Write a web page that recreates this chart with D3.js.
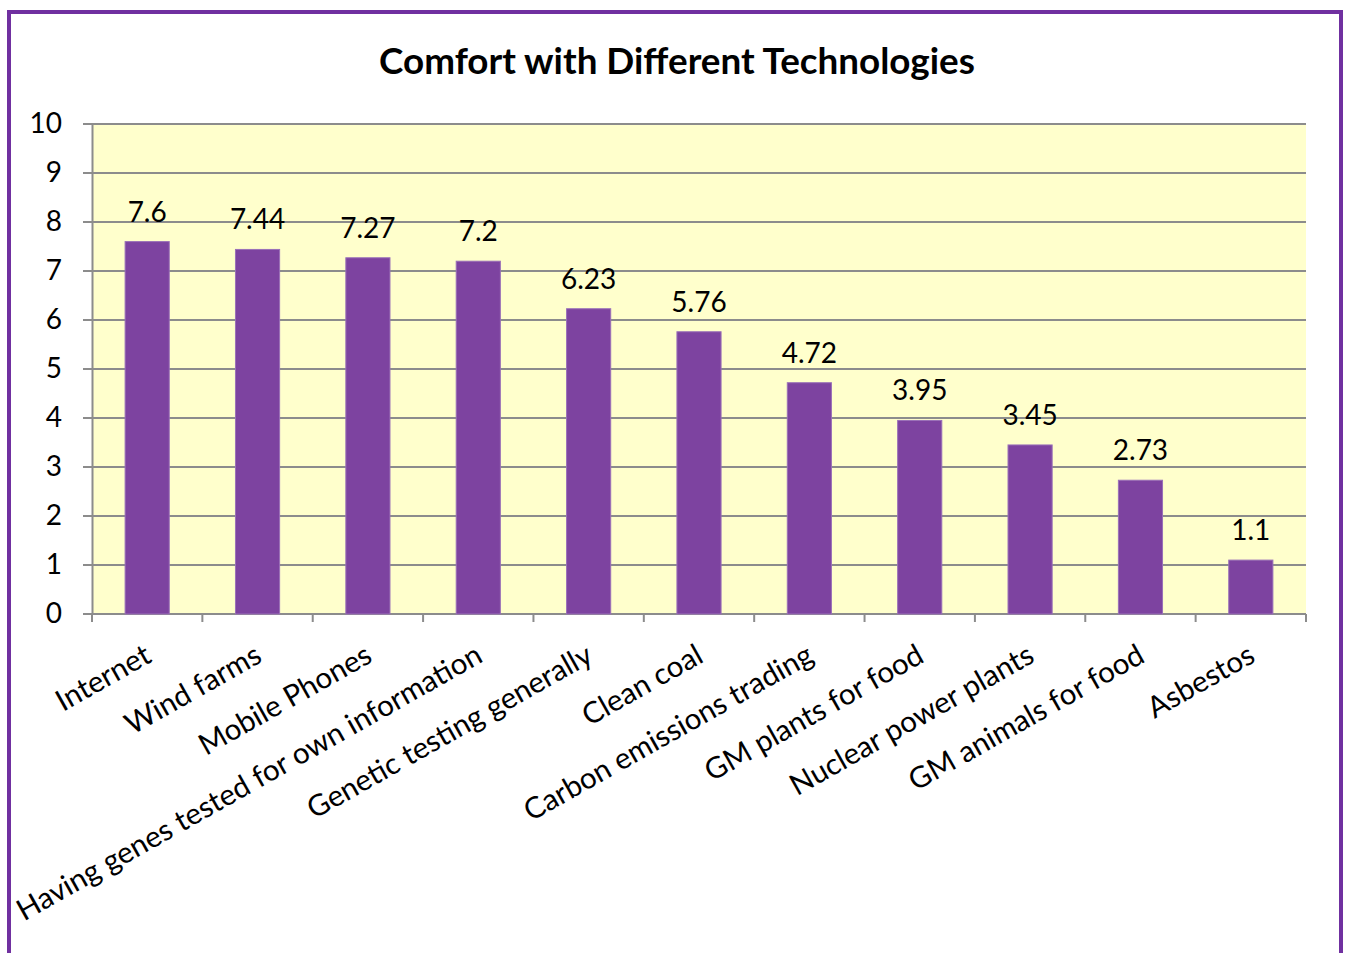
<!DOCTYPE html>
<html>
<head>
<meta charset="utf-8">
<script src="https://cdn.jsdelivr.net/npm/d3@7"></script>
<style>
  body { margin: 0; background: #fff; }
  text { font-family: Lato, "Open Sans", sans-serif; }
</style>
</head>
<body>
<div id="chart"></div>
<script>
var categories = ["Internet", "Wind farms", "Mobile Phones", "Having genes tested for own information",
    "Genetic testing generally", "Clean coal", "Carbon emissions trading", "GM plants for food",
    "Nuclear power plants", "GM animals  for food", "Asbestos"];
var values = [7.6, 7.44, 7.27, 7.2, 6.23, 5.76, 4.72, 3.95, 3.45, 2.73, 1.1];
var yTicks = [0, 1, 2, 3, 4, 5, 6, 7, 8, 9, 10];

var width = 1346, height = 953;
var margin = {left: 92, right: 40, top: 124, bottom: 339};

var svg = d3.select("#chart").append("svg")
    .attr("width", width)
    .attr("height", height);

// purple frame
svg.append("rect")
    .attr("x", 9).attr("y", 12)
    .attr("width", 1332).attr("height", 960)
    .attr("fill", "none")
    .attr("stroke", "#7030a0")
    .attr("stroke-width", 4);

svg.append("text")
    .attr("x", 677).attr("y", 74)
    .attr("text-anchor", "middle")
    .attr("font-size", "36.8px")
    .attr("font-weight", "bold")
    .text("Comfort with Different Technologies");

var x = d3.scaleBand()
    .domain(categories)
    .range([margin.left, width - margin.right])
    .paddingInner(0.6)
    .paddingOuter(0.3);

var y = d3.scaleLinear()
    .domain([0, 10])
    .range([height - margin.bottom, margin.top]);

svg.append("rect")
    .attr("x", margin.left).attr("y", margin.top)
    .attr("width", width - margin.right - margin.left)
    .attr("height", y(0) - margin.top)
    .attr("fill", "#ffffcc");

// gridlines
svg.append("g")
    .selectAll("line")
    .data(yTicks)
    .enter().append("line")
    .attr("x1", margin.left - 9)
    .attr("x2", width - margin.right)
    .attr("y1", function(d) { return y(d); })
    .attr("y2", function(d) { return y(d); })
    .attr("stroke", "#8c8c8c")
    .attr("stroke-width", 2);

// y axis
var yAxis = svg.append("g")
    .attr("transform", "translate(" + margin.left + ",0)")
    .call(d3.axisLeft(y).tickValues(yTicks).tickSize(0).tickPadding(30));
yAxis.select(".domain").attr("stroke", "#8c8c8c").attr("stroke-width", 2);
yAxis.selectAll("text").attr("font-size", "28px").attr("fill", "#000")
    .attr("font-family", "Lato, sans-serif");

// x axis category ticks
var bounds = d3.range(categories.length + 1).map(function(i) {
    return margin.left + i * (width - margin.right - margin.left) / categories.length;
});
svg.append("g")
    .selectAll("line")
    .data(bounds)
    .enter().append("line")
    .attr("x1", function(d) { return d; })
    .attr("x2", function(d) { return d; })
    .attr("y1", y(0))
    .attr("y2", y(0) + 8)
    .attr("stroke", "#8c8c8c")
    .attr("stroke-width", 2);

svg.append("g")
    .selectAll("rect")
    .data(values)
    .enter().append("rect")
    .attr("x", function(d, i) { return x(categories[i]); })
    .attr("y", function(d) { return y(d); })
    .attr("width", x.bandwidth())
    .attr("height", function(d) { return y(0) - y(d); })
    .attr("fill", "#7d43a0")
    .attr("stroke", "#9a70b8")
    .attr("stroke-width", 1);

svg.append("g")
    .selectAll("text")
    .data(values)
    .enter().append("text")
    .attr("x", function(d, i) { return x(categories[i]) + x.bandwidth() / 2; })
    .attr("y", function(d) { return y(d) - 20; })
    .attr("text-anchor", "middle")
    .attr("font-size", "28px")
    .text(function(d) { return d; });

svg.append("g")
    .selectAll("text")
    .data(categories)
    .enter().append("text")
    .attr("transform", function(d) {
        return "translate(" + (x(d) + x.bandwidth() / 2 + 6) + "," + (y(0) + 47) + ") rotate(-29.5)";
    })
    .attr("text-anchor", "end")
    .attr("font-size", "29.5px")
    .text(function(d) { return d; });
</script>
</body>
</html>
